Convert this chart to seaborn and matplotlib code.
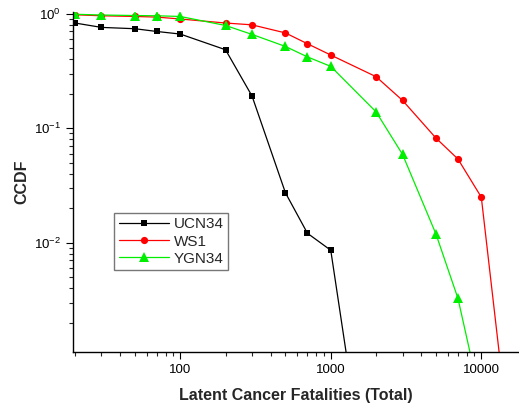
import numpy as np
import pandas as pd
import matplotlib
matplotlib.use("Agg")
import matplotlib.pyplot as plt
import seaborn as sns

# ---------------------------
# Data
# ---------------------------
ucn34_x = [20, 30, 50, 70, 100, 200, 300, 500, 700, 1000, 2000]
ucn34_y = [0.83, 0.76, 0.74, 0.70, 0.665, 0.485, 0.191, 0.0273, 0.0121, 0.0086, 2e-5]

ws1_x = [20, 30, 50, 70, 100, 200, 300, 500, 700, 1000, 2000, 3000, 5000, 7000, 10000, 20000]
ws1_y = [0.98, 0.96, 0.947, 0.935, 0.90, 0.83, 0.80, 0.68, 0.547, 0.436, 0.282, 0.175, 0.082, 0.0538, 0.025, 9e-6]

ygn34_x = [20, 30, 50, 70, 100, 200, 300, 500, 700, 1000, 2000, 3000, 5000, 7000, 10000]
ygn34_y = [0.99, 0.975, 0.965, 0.96, 0.947, 0.79, 0.66, 0.518, 0.42, 0.347, 0.139, 0.059, 0.0119, 0.00326, 4e-4]

series = ["UCN34", "WS1", "YGN34"]
colors = {"UCN34": "black", "WS1": "#ff0000", "YGN34": "#00ee00"}
markers = {"UCN34": "s", "WS1": "o", "YGN34": "^"}
msizes = {"UCN34": 4.2, "WS1": 5.2, "YGN34": 6.5}

df = pd.concat([
    pd.DataFrame({"x": ucn34_x, "y": ucn34_y, "series": "UCN34"}),
    pd.DataFrame({"x": ws1_x, "y": ws1_y, "series": "WS1"}),
    pd.DataFrame({"x": ygn34_x, "y": ygn34_y, "series": "YGN34"}),
])

# ---------------------------
# Plot
# ---------------------------
sns.set_style("ticks")
plt.rcParams["font.family"] = ["Liberation Sans", "DejaVu Sans"]

fig = plt.figure(figsize=(5.19, 4.07), dpi=100)
ax = fig.add_axes([0.140, 0.135, 0.860, 0.836])

sns.lineplot(data=df, x="x", y="y", hue="series", style="series",
             palette=colors, markers=markers, dashes=False,
             hue_order=series, style_order=series,
             linewidth=0.9, markersize=5, markeredgewidth=0,
             sort=False, legend=False, ax=ax)

# per-series marker sizes
for line, name in zip(ax.lines, series):
    line.set_markersize(msizes[name])
    line.set_label(name)

ax.set_xscale("log")
ax.set_yscale("log")
ax.set_xlim(19.3, 17800)
ax.set_ylim(0.00111, 1.04)

sns.despine(ax=ax)
for s in ["left", "bottom"]:
    ax.spines[s].set_linewidth(1.0)
    ax.spines[s].set_color("black")

ax.tick_params(which="major", length=5, width=0.8, labelsize=9.5, colors="black")
ax.tick_params(which="minor", length=3, width=0.8)
ax.xaxis.set_major_formatter(matplotlib.ticker.FuncFormatter(lambda v, p: f"{v:g}"))

ax.set_xlabel("Latent Cancer Fatalities (Total)", fontsize=11.5, fontweight="bold", labelpad=9)
ax.set_ylabel("CCDF", fontsize=11.5, fontweight="bold", labelpad=3)

leg = ax.legend(loc="upper left", bbox_to_anchor=(0.0925, 0.409), borderaxespad=0,
                fontsize=11, frameon=True, fancybox=False, handlelength=3.3,
                handletextpad=0.3, borderpad=0.3, labelspacing=0.2)
leg.get_frame().set_edgecolor("#555555")
leg.get_frame().set_linewidth(1.0)

fig.savefig("out.png", dpi=100)
